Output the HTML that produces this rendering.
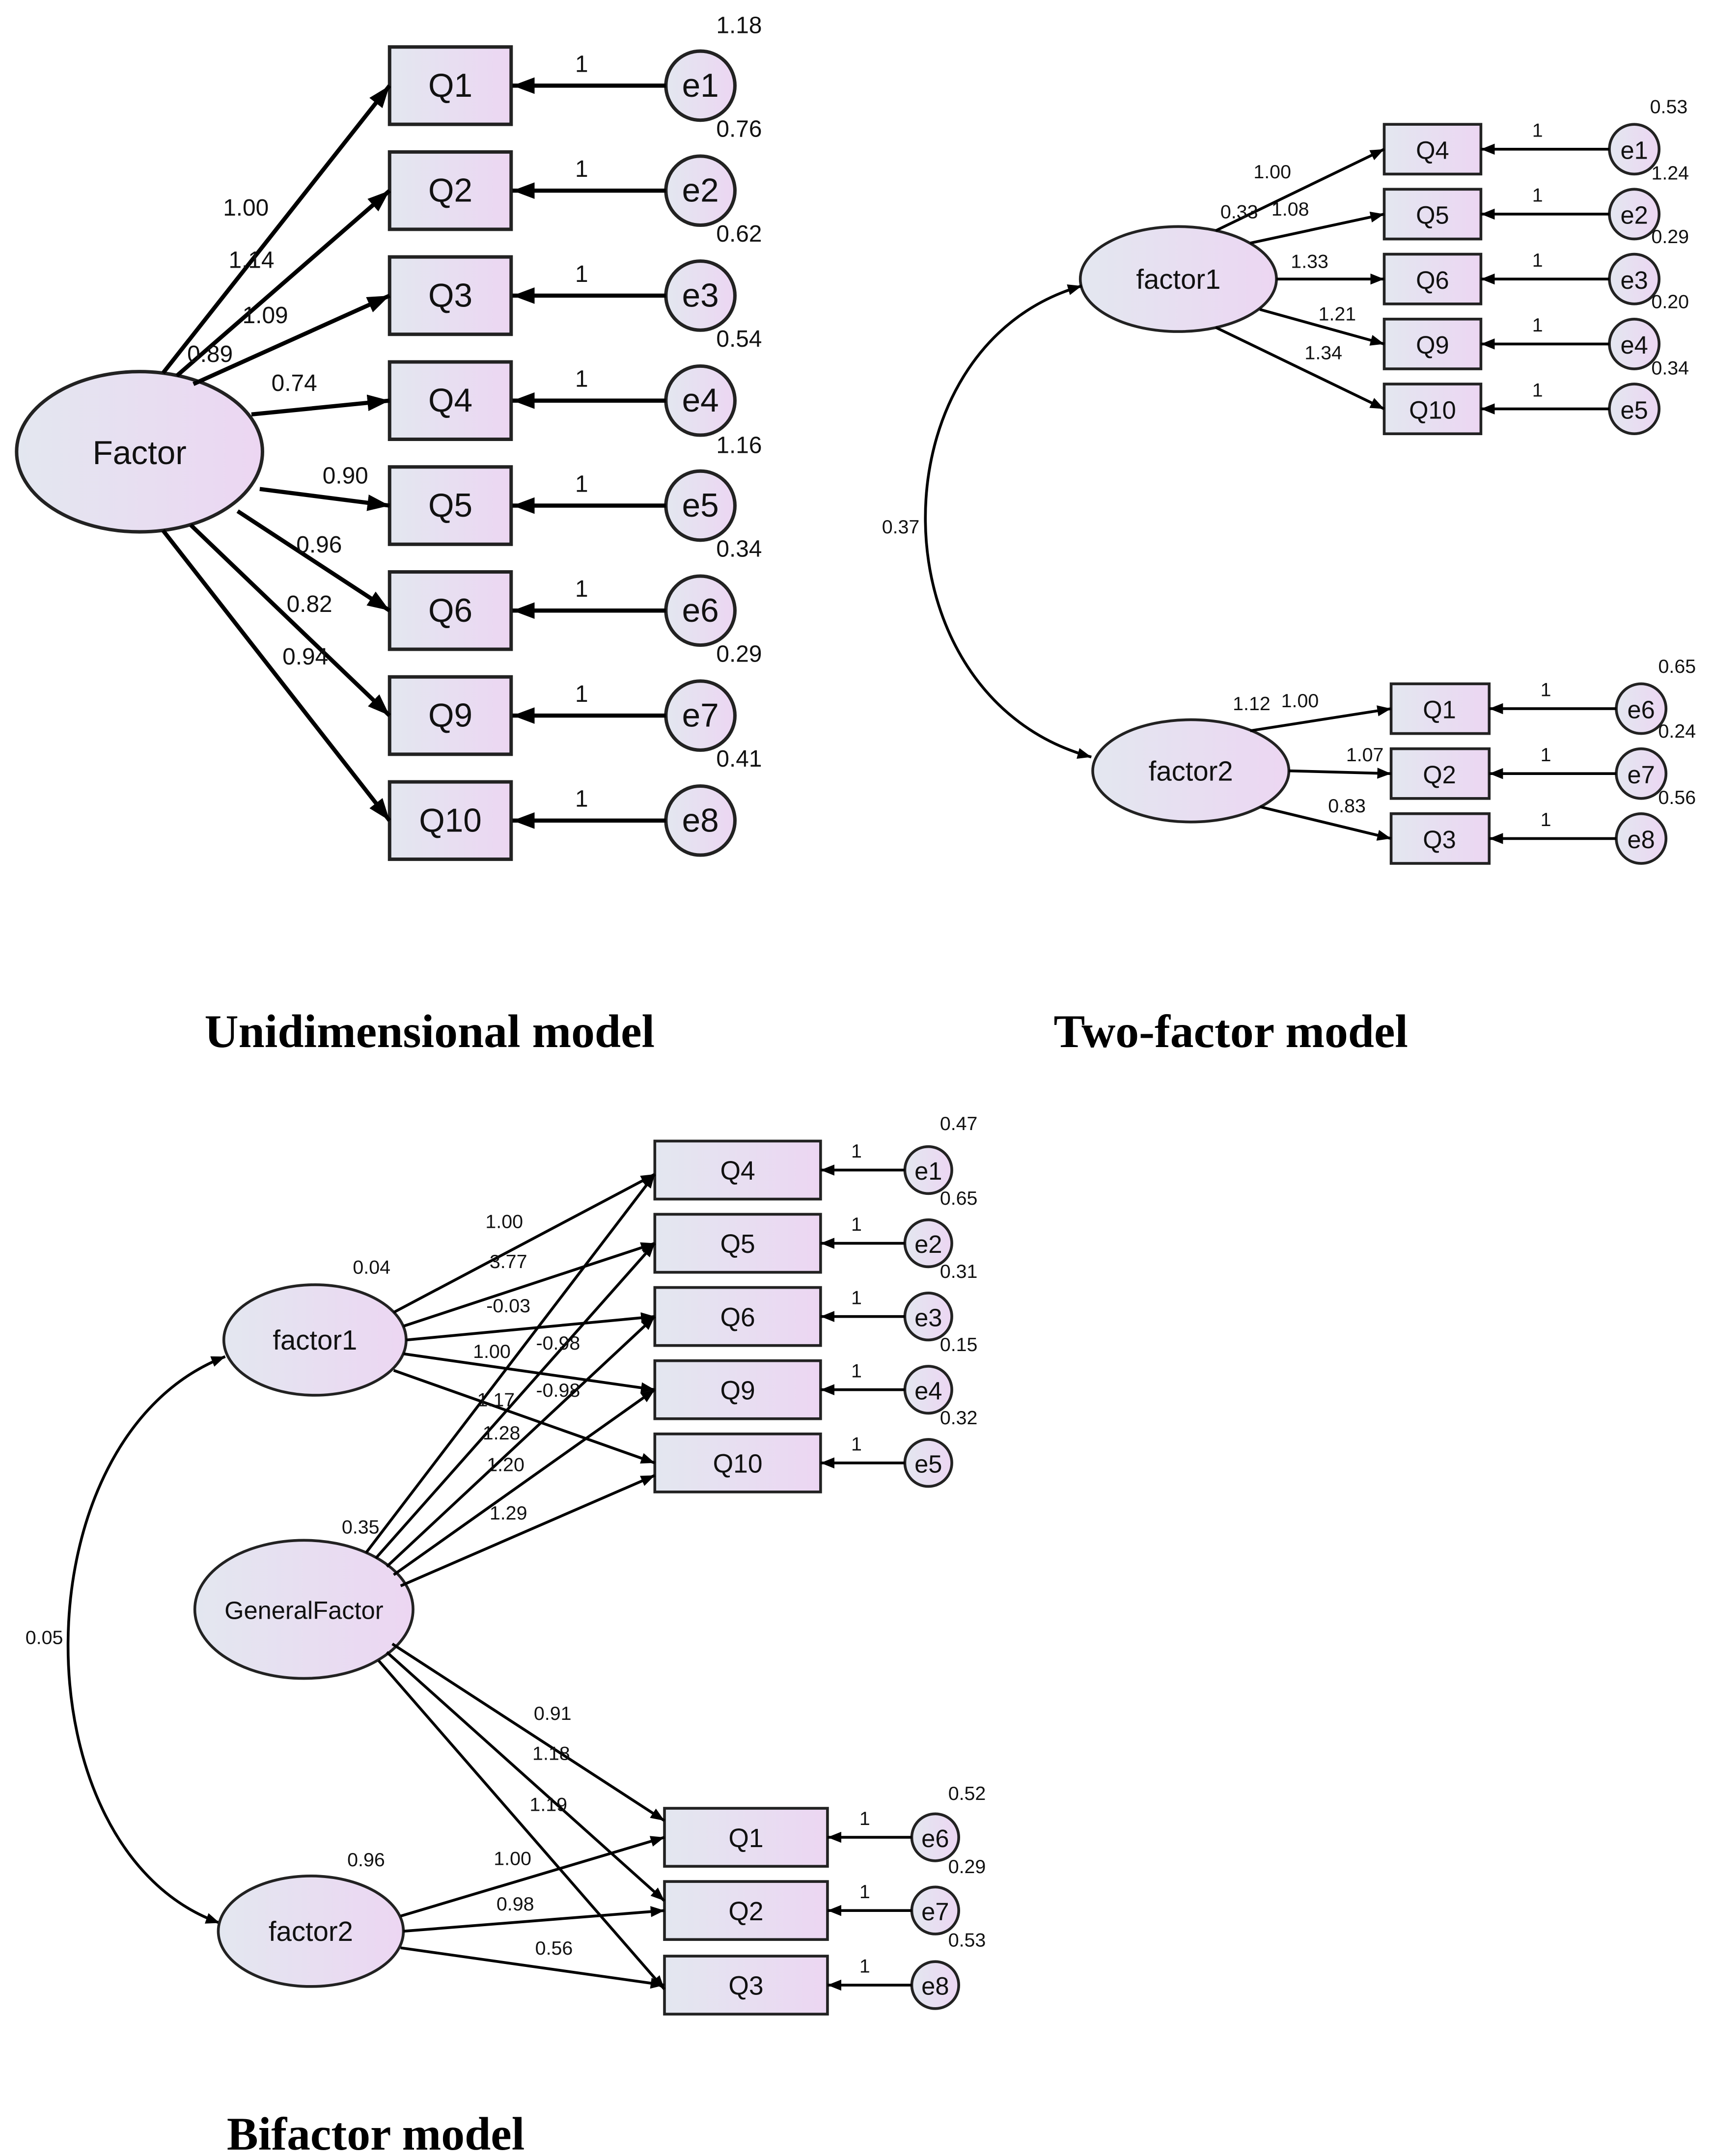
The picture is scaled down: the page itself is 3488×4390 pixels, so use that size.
<!DOCTYPE html>
<html><head><meta charset="utf-8"><style>html,body{margin:0;padding:0;background:#fff}svg{display:block}</style></head><body>
<svg width="3488" height="4390" viewBox="0 0 1240 1560.7" xmlns="http://www.w3.org/2000/svg" font-family="Liberation Sans, Arial, sans-serif">
<defs>
<linearGradient id="g" x1="0" y1="0" x2="1" y2="0"><stop offset="0" stop-color="#e3e7f0"/><stop offset="1" stop-color="#ecd6f2"/></linearGradient>
<marker id="a" markerWidth="10" markerHeight="8" refX="10" refY="4" orient="auto" markerUnits="userSpaceOnUse"><path d="M0,0 L10,4 L0,8 z" fill="#000"/></marker>
<marker id="c" markerWidth="10" markerHeight="8" refX="10" refY="4" orient="auto-start-reverse" markerUnits="userSpaceOnUse"><path d="M0,0 L10,4 L0,8 z" fill="#000"/></marker>
<marker id="b" markerWidth="16" markerHeight="12" refX="16" refY="6" orient="auto" markerUnits="userSpaceOnUse"><path d="M0,0 L16,6 L0,12 z" fill="#000"/></marker>
</defs>
<g stroke="#222" fill="url(#g)" stroke-width="2.5">
<ellipse cx="101" cy="327" rx="89" ry="58"/>
<rect x="282" y="34" width="88" height="56"/><rect x="282" y="110" width="88" height="56"/><rect x="282" y="186" width="88" height="56"/><rect x="282" y="262" width="88" height="56"/>
<rect x="282" y="338" width="88" height="56"/><rect x="282" y="414" width="88" height="56"/><rect x="282" y="490" width="88" height="56"/><rect x="282" y="566" width="88" height="56"/>
<circle cx="507" cy="62" r="25"/><circle cx="507" cy="138" r="25"/><circle cx="507" cy="214" r="25"/><circle cx="507" cy="290" r="25"/>
<circle cx="507" cy="366" r="25"/><circle cx="507" cy="442" r="25"/><circle cx="507" cy="518" r="25"/><circle cx="507" cy="594" r="25"/>
</g>
<g stroke="#000" stroke-width="3" fill="none" marker-end="url(#b)">
<line x1="118" y1="270" x2="282" y2="62"/><line x1="128" y1="272" x2="282" y2="138"/><line x1="140" y1="278" x2="282" y2="214"/><line x1="182" y1="300" x2="282" y2="290"/>
<line x1="188" y1="354" x2="282" y2="366"/><line x1="172" y1="370" x2="282" y2="442"/><line x1="138" y1="380" x2="282" y2="518"/><line x1="118" y1="384" x2="282" y2="594"/>
<line x1="482" y1="62" x2="371" y2="62"/><line x1="482" y1="138" x2="371" y2="138"/><line x1="482" y1="214" x2="371" y2="214"/><line x1="482" y1="290" x2="371" y2="290"/>
<line x1="482" y1="366" x2="371" y2="366"/><line x1="482" y1="442" x2="371" y2="442"/><line x1="482" y1="518" x2="371" y2="518"/><line x1="482" y1="594" x2="371" y2="594"/>
</g>
<g font-size="24" text-anchor="middle" fill="#111">
<text x="101" y="336">Factor</text>
<text x="326" y="70">Q1</text><text x="326" y="146">Q2</text><text x="326" y="222">Q3</text><text x="326" y="298">Q4</text>
<text x="326" y="374">Q5</text><text x="326" y="450">Q6</text><text x="326" y="526">Q9</text><text x="326" y="602">Q10</text>
<text x="507" y="70">e1</text><text x="507" y="146">e2</text><text x="507" y="222">e3</text><text x="507" y="298">e4</text>
<text x="507" y="374">e5</text><text x="507" y="450">e6</text><text x="507" y="526">e7</text><text x="507" y="602">e8</text>
</g>
<g font-size="17" text-anchor="middle" fill="#111">
<text x="421" y="52">1</text><text x="421" y="128">1</text><text x="421" y="204">1</text><text x="421" y="280">1</text><text x="421" y="356">1</text><text x="421" y="432">1</text><text x="421" y="508">1</text><text x="421" y="584">1</text>
<text x="535" y="24">1.18</text><text x="535" y="99">0.76</text><text x="535" y="175">0.62</text><text x="535" y="251">0.54</text><text x="535" y="328">1.16</text><text x="535" y="403">0.34</text><text x="535" y="479">0.29</text><text x="535" y="555">0.41</text>
<text x="178" y="156">1.00</text><text x="182" y="194">1.14</text><text x="192" y="234">1.09</text><text x="152" y="262">0.89</text><text x="213" y="283">0.74</text>
<text x="250" y="350">0.90</text><text x="231" y="400">0.96</text><text x="224" y="443">0.82</text><text x="221" y="481">0.94</text>
</g>
<g stroke="#222" fill="url(#g)" stroke-width="2">
<ellipse cx="853" cy="202" rx="71" ry="38"/><ellipse cx="862" cy="558" rx="71" ry="37"/>
<rect x="1002" y="90" width="70" height="36"/><rect x="1002" y="137" width="70" height="36"/><rect x="1002" y="184" width="70" height="36"/><rect x="1002" y="231" width="70" height="36"/><rect x="1002" y="278" width="70" height="36"/>
<rect x="1007" y="495" width="71" height="36"/><rect x="1007" y="542" width="71" height="36"/><rect x="1007" y="589" width="71" height="36"/>
<circle cx="1183" cy="108" r="18"/><circle cx="1183" cy="155" r="18"/><circle cx="1183" cy="202" r="18"/><circle cx="1183" cy="249" r="18"/><circle cx="1183" cy="296" r="18"/>
<circle cx="1188" cy="513" r="18"/><circle cx="1188" cy="560" r="18"/><circle cx="1188" cy="607" r="18"/>
</g>
<g stroke="#000" stroke-width="2" fill="none" marker-end="url(#a)">
<line x1="880" y1="167" x2="1002" y2="108"/><line x1="905" y1="176" x2="1002" y2="155"/><line x1="924" y1="202" x2="1002" y2="202"/><line x1="912" y1="224" x2="1002" y2="249"/><line x1="880" y1="237" x2="1002" y2="296"/>
<line x1="1165" y1="108" x2="1072" y2="108"/><line x1="1165" y1="155" x2="1072" y2="155"/><line x1="1165" y1="202" x2="1072" y2="202"/><line x1="1165" y1="249" x2="1072" y2="249"/><line x1="1165" y1="296" x2="1072" y2="296"/>
<line x1="905" y1="529" x2="1007" y2="513"/><line x1="933" y1="558" x2="1007" y2="560"/><line x1="912" y1="584" x2="1007" y2="607"/>
<line x1="1170" y1="513" x2="1078" y2="513"/><line x1="1170" y1="560" x2="1078" y2="560"/><line x1="1170" y1="607" x2="1078" y2="607"/>
</g>
<g stroke="#000" stroke-width="2" fill="none" marker-end="url(#c)" marker-start="url(#c)">
<path d="M783,207 C 631,250 631,505 790,548"/>
<path d="M163,982 C 12,1040 12,1340 159,1392"/>
</g>
<g font-size="20" text-anchor="middle" fill="#111">
<text x="853" y="209">factor1</text><text x="862" y="565">factor2</text>
<text x="1037" y="115" font-size="18">Q4</text><text x="1037" y="162" font-size="18">Q5</text><text x="1037" y="209" font-size="18">Q6</text><text x="1037" y="256" font-size="18">Q9</text><text x="1037" y="303" font-size="18">Q10</text>
<text x="1042" y="520" font-size="18">Q1</text><text x="1042" y="567" font-size="18">Q2</text><text x="1042" y="614" font-size="18">Q3</text>
<text x="1183" y="115" font-size="18">e1</text><text x="1183" y="162" font-size="18">e2</text><text x="1183" y="209" font-size="18">e3</text><text x="1183" y="256" font-size="18">e4</text><text x="1183" y="303" font-size="18">e5</text>
<text x="1188" y="520" font-size="18">e6</text><text x="1188" y="567" font-size="18">e7</text><text x="1188" y="614" font-size="18">e8</text>
</g>
<g font-size="14" text-anchor="middle" fill="#111">
<text x="1113" y="99">1</text><text x="1113" y="146">1</text><text x="1113" y="193">1</text><text x="1113" y="240">1</text><text x="1113" y="287">1</text>
<text x="1119" y="504">1</text><text x="1119" y="551">1</text><text x="1119" y="598">1</text>
<text x="1208" y="82">0.53</text><text x="1209" y="130">1.24</text><text x="1209" y="176">0.29</text><text x="1209" y="223">0.20</text><text x="1209" y="271">0.34</text>
<text x="1214" y="487">0.65</text><text x="1214" y="534">0.24</text><text x="1214" y="582">0.56</text>
<text x="921" y="129">1.00</text><text x="897" y="158">0.33</text><text x="934" y="156">1.08</text><text x="948" y="194">1.33</text><text x="968" y="232">1.21</text><text x="958" y="260">1.34</text>
<text x="906" y="514">1.12</text><text x="941" y="512">1.00</text><text x="988" y="551">1.07</text><text x="975" y="588">0.83</text>
<text x="652" y="386">0.37</text>
</g>
<g stroke="#222" fill="url(#g)" stroke-width="2">
<ellipse cx="228" cy="970" rx="66" ry="40"/><ellipse cx="220" cy="1165" rx="79" ry="50"/><ellipse cx="225" cy="1398" rx="67" ry="40"/>
<rect x="474" y="826" width="120" height="42"/><rect x="474" y="879" width="120" height="42"/><rect x="474" y="932" width="120" height="42"/><rect x="474" y="985" width="120" height="42"/><rect x="474" y="1038" width="120" height="42"/>
<rect x="481" y="1309" width="118" height="42"/><rect x="481" y="1362" width="118" height="42"/><rect x="481" y="1416" width="118" height="42"/>
<circle cx="672" cy="847" r="17"/><circle cx="672" cy="900" r="17"/><circle cx="672" cy="953" r="17"/><circle cx="672" cy="1006" r="17"/><circle cx="672" cy="1059" r="17"/>
<circle cx="677" cy="1330" r="17"/><circle cx="677" cy="1383" r="17"/><circle cx="677" cy="1437" r="17"/>
</g>
<g stroke="#000" stroke-width="2" fill="none" marker-end="url(#a)">
<line x1="285" y1="950" x2="474" y2="850"/><line x1="292" y1="960" x2="474" y2="900"/><line x1="294" y1="970" x2="474" y2="953"/><line x1="292" y1="980" x2="474" y2="1006"/><line x1="285" y1="992" x2="474" y2="1059"/>
<line x1="265" y1="1124" x2="474" y2="850"/><line x1="272" y1="1128" x2="474" y2="900"/><line x1="280" y1="1134" x2="474" y2="953"/><line x1="285" y1="1140" x2="474" y2="1006"/><line x1="290" y1="1148" x2="474" y2="1068"/>
<line x1="284" y1="1190" x2="481" y2="1318"/><line x1="280" y1="1196" x2="481" y2="1376"/><line x1="274" y1="1202" x2="481" y2="1440"/>
<line x1="290" y1="1387" x2="481" y2="1330"/><line x1="292" y1="1398" x2="481" y2="1383"/><line x1="290" y1="1410" x2="481" y2="1437"/>
<line x1="655" y1="847" x2="594" y2="847"/><line x1="655" y1="900" x2="594" y2="900"/><line x1="655" y1="953" x2="594" y2="953"/><line x1="655" y1="1006" x2="594" y2="1006"/><line x1="655" y1="1059" x2="594" y2="1059"/>
<line x1="660" y1="1330" x2="599" y2="1330"/><line x1="660" y1="1383" x2="599" y2="1383"/><line x1="660" y1="1437" x2="599" y2="1437"/>
</g>
<g font-size="20" text-anchor="middle" fill="#111">
<text x="228" y="977">factor1</text><text x="220" y="1172" font-size="18">GeneralFactor</text><text x="225" y="1405">factor2</text>
<text x="534" y="854" font-size="19">Q4</text><text x="534" y="907" font-size="19">Q5</text><text x="534" y="960" font-size="19">Q6</text><text x="534" y="1013" font-size="19">Q9</text><text x="534" y="1066" font-size="19">Q10</text>
<text x="540" y="1337" font-size="19">Q1</text><text x="540" y="1390" font-size="19">Q2</text><text x="540" y="1444" font-size="19">Q3</text>
<text x="672" y="854" font-size="18">e1</text><text x="672" y="907" font-size="18">e2</text><text x="672" y="960" font-size="18">e3</text><text x="672" y="1013" font-size="18">e4</text><text x="672" y="1066" font-size="18">e5</text>
<text x="677" y="1337" font-size="18">e6</text><text x="677" y="1390" font-size="18">e7</text><text x="677" y="1444" font-size="18">e8</text>
</g>
<g font-size="14" text-anchor="middle" fill="#111">
<text x="620" y="838">1</text><text x="620" y="891">1</text><text x="620" y="944">1</text><text x="620" y="997">1</text><text x="620" y="1050">1</text>
<text x="626" y="1321">1</text><text x="626" y="1374">1</text><text x="626" y="1428">1</text>
<text x="694" y="818">0.47</text><text x="694" y="872">0.65</text><text x="694" y="925">0.31</text><text x="694" y="978">0.15</text><text x="694" y="1031">0.32</text>
<text x="700" y="1303">0.52</text><text x="700" y="1356">0.29</text><text x="700" y="1409">0.53</text>
<text x="269" y="922">0.04</text><text x="261" y="1110">0.35</text><text x="265" y="1351">0.96</text><text x="32" y="1190">0.05</text>
<text x="365" y="889">1.00</text><text x="368" y="918">3.77</text><text x="368" y="950">-0.03</text><text x="356" y="983">1.00</text><text x="404" y="977">-0.98</text>
<text x="359" y="1018">1.17</text><text x="404" y="1011">-0.98</text><text x="363" y="1042">1.28</text><text x="366" y="1065">1.20</text><text x="368" y="1100">1.29</text>
<text x="400" y="1245">0.91</text><text x="399" y="1274">1.18</text><text x="397" y="1311">1.19</text>
<text x="371" y="1350">1.00</text><text x="373" y="1383">0.98</text><text x="401" y="1415">0.56</text>
</g>
<g font-family="Liberation Serif, serif" font-weight="bold" font-size="34" text-anchor="middle" fill="#000">
<text x="311" y="758">Unidimensional model</text>
<text x="891" y="758">Two-factor model</text>
<text x="272" y="1556">Bifactor model</text>
</g>
</svg>
</body></html>
